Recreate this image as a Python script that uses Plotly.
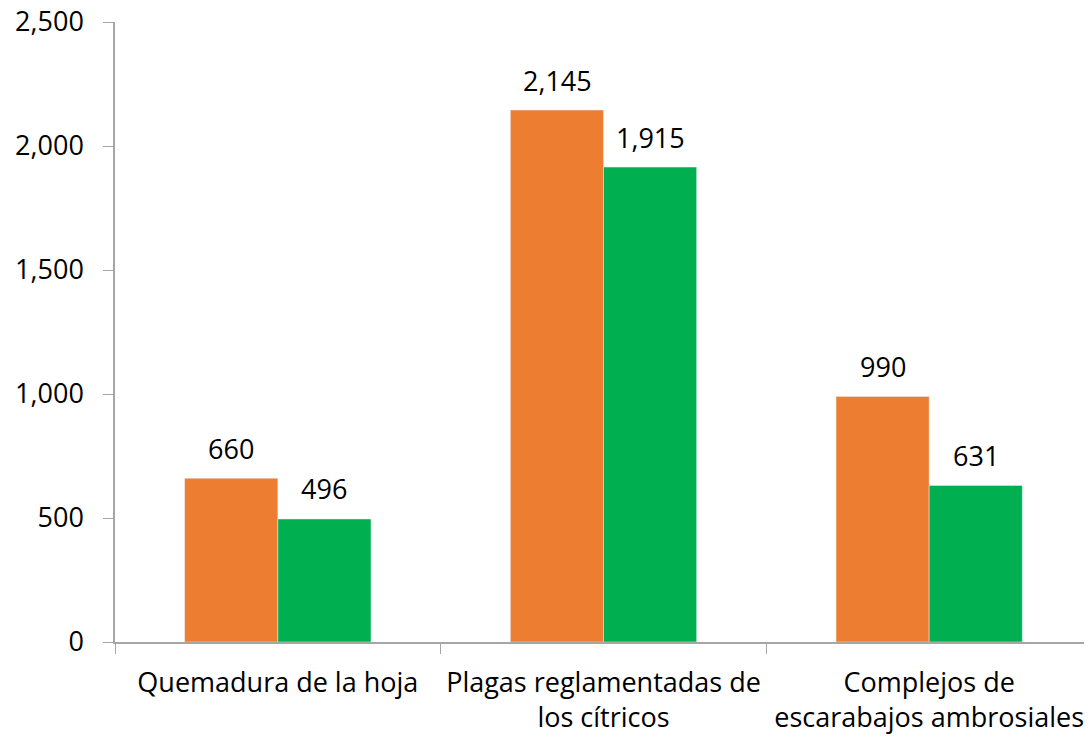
import plotly.graph_objects as go

# categories and values
categories = ["Quemadura de la hoja",
              "Plagas reglamentadas de<br>los cítricos",
              "Complejos de<br>escarabajos ambrosiales"]
serie_a = [660, 2145, 990]
serie_b = [496, 1915, 631]

font = dict(family="Open Sans, Noto Sans, sans-serif", size=27, color="#000000")

fig = go.Figure()
fig.add_trace(go.Bar(x=categories, y=serie_a, marker_color="#ED7D31"))
fig.add_trace(go.Bar(x=categories, y=serie_b, marker_color="#00B050"))

# data labels above each bar
for vals, shift in ((serie_a, -46.5), (serie_b, 46.5)):
    for cat, v in zip(categories, vals):
        fig.add_annotation(x=cat, y=v, text=f"{v:,}", showarrow=False,
                           xshift=shift, yshift=30, yanchor="middle", font=font)

# page body adds an 8px offset, so the figure is sized to fill what remains
fig.update_layout(
    width=1084, height=733,
    margin=dict(l=107, r=0, t=14, b=99, autoexpand=False),
    barmode="group", bargap=0.428, bargroupgap=0,
    plot_bgcolor="white", paper_bgcolor="white",
    showlegend=False, font=font,
)
fig.update_yaxes(range=[0, 2500], dtick=500, tickformat=",", showgrid=False,
                 showline=True, linecolor="#A6A6A6", linewidth=1.5,
                 ticks="outside", ticklen=10, tickcolor="#A6A6A6",
                 zeroline=False, ticklabelstandoff=14, ticklabeloverflow="allow",
                 automargin=False)
fig.update_xaxes(showgrid=False, showline=True, linecolor="#A6A6A6", linewidth=1.5,
                 ticks="outside", tickson="boundaries", ticklen=10,
                 tickcolor="#A6A6A6", tickangle=0, ticklabelstandoff=16,
                 ticklabeloverflow="allow", automargin=False)

fig.write_html("out.html")
